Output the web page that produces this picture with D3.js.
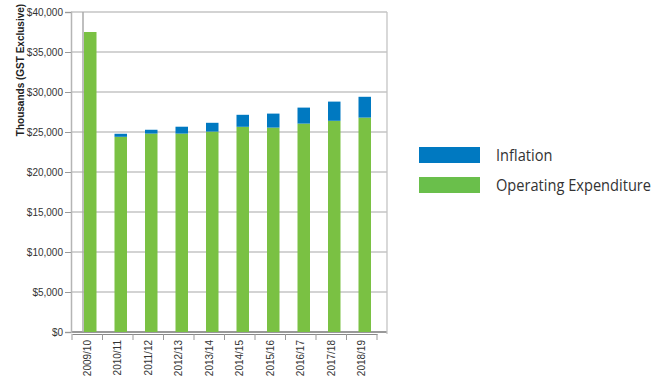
<!DOCTYPE html>
<html>
<head>
<meta charset="utf-8">
<script src="https://cdn.jsdelivr.net/npm/d3@7"></script>
<style>
  body { margin: 0; background: #fff; }
  .axis text { font-family: Arial, "Liberation Sans", sans-serif; font-size: 10px; fill: #333; }
  .legend text { font-family: "Open Sans", sans-serif; font-size: 17px; fill: #333; }
</style>
</head>
<body>
<div id="chart"></div>
<script>
// years along the bottom
var years = ["2009/10", "2010/11", "2011/12", "2012/13", "2013/14",
             "2014/15", "2015/16", "2016/17", "2017/18", "2018/19"];
// thousands, GST exclusive
var opex = [37500, 24400, 24800, 24800, 25050, 25650, 25550, 26050, 26400, 26800];
var inflation = [0, 380, 480, 860, 1100, 1500, 1750, 2000, 2400, 2600];
var yTicks = [0, 5000, 10000, 15000, 20000, 25000, 30000, 35000, 40000];
var seriesNames = ["Inflation", "Operating Expenditure"];
var colors = {"Inflation": "#0079c1", "Operating Expenditure": "#7ac143"};

var width = 670, height = 376;
var svg = d3.select("#chart").append("svg")
    .attr("width", width)
    .attr("height", height);

var plot = {left: 71, right: 387, top: 12, bottom: 332};

var x = d3.scaleBand().domain(years).range([plot.left + 1, plot.right - 10]);
var y = d3.scaleLinear().domain([0, 40000]).range([plot.bottom, plot.top]);

//gridlines
svg.append("g").selectAll("line").data(yTicks).enter().append("line")
    .attr("x1", plot.left).attr("x2", plot.right)
    .attr("y1", function (d) { return y(d); })
    .attr("y2", function (d) { return y(d); })
    .attr("stroke", function (d) { return d == 0 ? "#999" : "#c4c4c4"; })
    .attr("stroke-width", function (d) { return d == 0 ? 2 : 1.3; });

//back wall + right edge
svg.append("line").attr("x1", plot.left + 12).attr("x2", plot.left + 12)
    .attr("y1", y(40000)).attr("y2", y(0))
    .attr("stroke", "#aaa").attr("stroke-width", 1.5);
svg.append("line").attr("x1", plot.right).attr("x2", plot.right)
    .attr("y1", y(40000)).attr("y2", y(0) + 2)
    .attr("stroke", "#c4c4c4").attr("stroke-width", 1.3);

//stacked bars
var stacked = years.map(function (yr, i) {
    return {year: yr, opex: opex[i], inflation: inflation[i]};
});
var bw = 12.5;
var barX = function (d) { return x(d.year) + x.bandwidth() / 2 + 3 - bw / 2; };
var bars = svg.append("g").selectAll("g").data(stacked).enter().append("g");
bars.append("rect")
    .attr("x", barX)
    .attr("width", bw)
    .attr("y", function (d) { return y(d.opex); })
    .attr("height", function (d) { return y(0) - y(d.opex); })
    .attr("fill", colors["Operating Expenditure"]);
bars.filter(function (d) { return d.inflation > 0; }).append("rect")
    .attr("x", barX)
    .attr("width", bw)
    .attr("y", function (d) { return y(d.opex + d.inflation); })
    .attr("height", function (d) { return y(d.opex) - y(d.opex + d.inflation); })
    .attr("fill", colors["Inflation"]);

//y axis
var yAxis = svg.append("g").attr("class", "axis")
    .attr("transform", "translate(" + plot.left + ",0)")
    .call(d3.axisLeft(y).tickValues(yTicks).tickSize(6).tickPadding(2)
        .tickFormat(function (d) { return "$" + d3.format(",")(d); }));
yAxis.select(".domain").attr("stroke", "#b5b5b5").attr("stroke-width", 1.5);
yAxis.selectAll(".tick line").attr("stroke", "#999");

//x axis
var xAxis = svg.append("g").attr("class", "axis")
    .attr("transform", "translate(0," + (plot.bottom + 2) + ")")
    .call(d3.axisBottom(x).tickSize(0).tickPadding(6));
xAxis.select(".domain").attr("stroke", "#888").attr("stroke-width", 1.2);
xAxis.selectAll(".tick text")
    .attr("transform", "rotate(-90)")
    .attr("x", -6).attr("y", 0).attr("dy", "0.35em")
    .style("text-anchor", "end");
xAxis.selectAll(".sep").data(years.concat(["end"])).enter().append("line")
    .attr("x1", function (d, i) { return plot.left + 1 + i * x.step(); })
    .attr("x2", function (d, i) { return plot.left + 1 + i * x.step(); })
    .attr("y1", 0).attr("y2", 6)
    .attr("stroke", "#999");

//axis title
svg.append("text")
    .attr("transform", "translate(24,70) rotate(-90)")
    .attr("text-anchor", "middle")
    .style("font-family", "Arial, 'Liberation Sans', sans-serif")
    .style("font-size", "10px")
    .style("font-weight", "bold")
    .attr("fill", "#222")
    .text("Thousands (GST Exclusive)");

//legend
var legend = svg.append("g").attr("class", "legend")
    .attr("transform", "translate(419,147)");
var item = legend.selectAll("g").data(seriesNames).enter().append("g")
    .attr("transform", function (d, i) { return "translate(0," + i * 30 + ")"; });
item.append("rect").attr("width", 61).attr("height", 16)
    .attr("fill", function (d) { return d == "Inflation" ? colors[d] : "#6abf4b"; });
item.append("text")
    .attr("transform", "translate(77,8) scale(0.86,1)")
    .attr("dy", "0.35em")
    .text(function (d) { return d; });
</script>
</body>
</html>
